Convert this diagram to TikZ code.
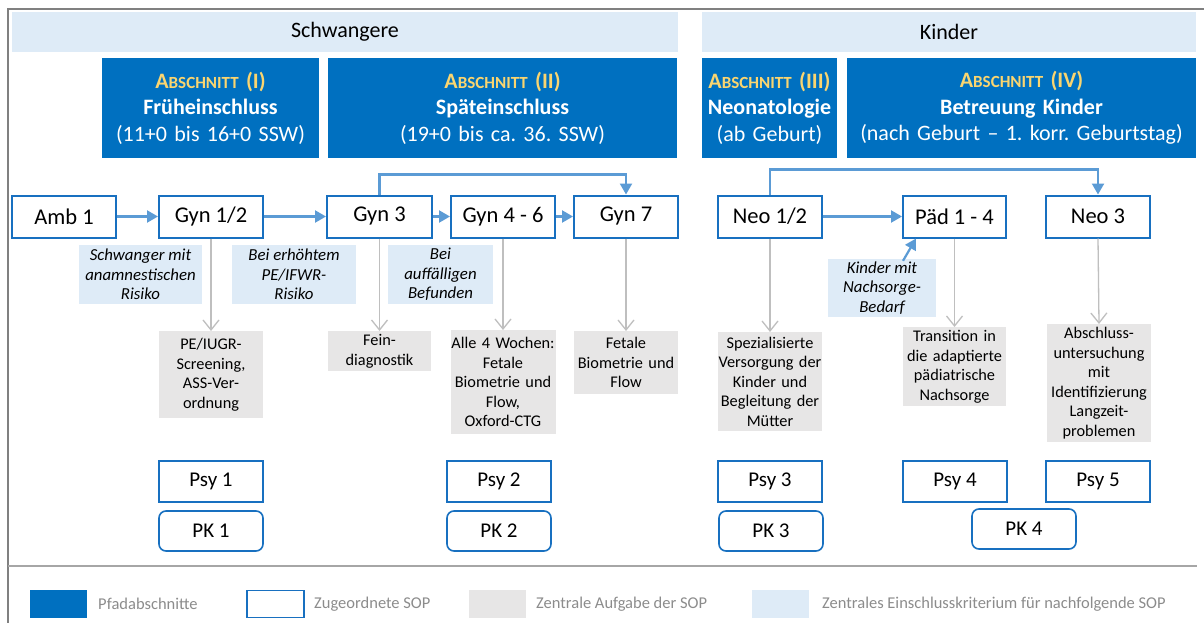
\documentclass[tikz,border=0pt]{standalone}
\usepackage{fontspec}
\setmainfont{Carlito}
\usetikzlibrary{arrows.meta}

\definecolor{pathblue}{RGB}{0,112,192}
\definecolor{sopblue}{RGB}{24,112,192}
\definecolor{arrowblue}{RGB}{91,155,213}
\definecolor{critblue}{RGB}{222,235,247}
\definecolor{taskgray}{RGB}{231,230,230}
\definecolor{goldtext}{RGB}{250,213,112}
\definecolor{tipgray}{RGB}{191,191,191}
\definecolor{framegray}{RGB}{128,128,128}
\definecolor{sepgray}{RGB}{166,166,166}
\definecolor{legtext}{RGB}{140,140,140}

% fake small caps for the section labels
\newcommand\abschnittlabel[1]{{\color{goldtext}\bfseries A{\fontsize{17}{26}\selectfont BSCHNITT} #1}}

\begin{document}
\frenchspacing
\begin{tikzpicture}[x=1pt,y=-1pt,
  band/.style={fill=critblue, inner sep=0pt, font={\fontsize{22}{26}\selectfont}},
  section/.style={fill=pathblue, text=white, inner sep=0pt, align=center,
    minimum height=100pt, font={\fontsize{22}{26.5}\selectfont}},
  sop/.style={draw=sopblue, line width=2pt, fill=white, inner sep=0pt,
    minimum width=104pt, minimum height=42pt, font={\fontsize{22.5}{26}\selectfont}},
  psybox/.style={draw=sopblue, line width=1.6pt, fill=white, inner sep=0pt,
    minimum width=104pt, minimum height=41pt, font={\fontsize{21}{24}\selectfont}},
  pkbox/.style={psybox, rounded corners=7pt, minimum height=40pt},
  crit/.style={fill=critblue, inner sep=0pt, align=center, minimum height=59pt,
    font={\fontsize{16.8}{19.5}\selectfont\itshape}},
  task/.style={fill=taskgray, inner sep=0pt, align=center, anchor=north,
    font={\fontsize{16.3}{19.5}\selectfont}},
  flowline/.style={draw=arrowblue, line width=2.2pt,
    -{Triangle[length=11pt,width=12pt]}},
  taskline/.style={draw=tipgray, line width=1.3pt,
    -{Straight Barb[length=10pt,width=16pt,line width=1.3pt]}},
  legbox/.style={minimum width=57pt, minimum height=28pt, inner sep=0pt},
  legtxt/.style={anchor=west, text=legtext, inner sep=0pt,
    font={\fontsize{16.5}{19}\selectfont}}
]
\useasboundingbox (0,0) rectangle (1204,623);
\fill[white] (0,0) rectangle (1204,623);

% outer frame and legend separator
\draw[framegray, line width=2pt] (8,623) -- (8,9) -- (1204,9);
\draw[sepgray, line width=2pt] (8,566) -- (1197,566);

% group bands
\node[band, minimum width=666pt, minimum height=40pt] (schw) at (345,32) {Schwangere};
\node[band, minimum width=494pt, minimum height=40pt] (kind) at (949,32) {Kinder};

% path sections
\node[section, minimum width=217pt, text width=213pt] (secI) at (210.5,108)
  {\abschnittlabel{(I)}\\\textbf{Früheinschluss}\\(11+0 bis 16+0 SSW)};
\node[section, minimum width=349pt, text width=345pt] (secII) at (502.5,108)
  {\abschnittlabel{(II)}\\\textbf{Späteinschluss}\\(19+0 bis ca. 36. SSW)};
\node[section, minimum width=135pt, text width=135pt] (secIII) at (769.5,108)
  {\abschnittlabel{(III)}\\\textbf{Neonatologie}\\(ab Geburt)};
\node[section, minimum width=349pt, text width=345pt] (secIV) at (1021.5,108)
  {\abschnittlabel{(IV)}\\\textbf{Betreuung Kinder}\\(nach Geburt -- 1. korr. Geburtstag)};

% assigned SOPs along the path
\node[sop] (amb1)  at (64,216.5)   {Amb 1};
\node[sop] (gyn12) at (211,216.5)  {Gyn 1/2};
\node[sop, minimum width=105pt] (gyn3)  at (379.5,216.5) {Gyn 3};
\node[sop] (gyn46) at (503,216.5)  {Gyn 4 - 6};
\node[sop] (gyn7)  at (626,216.5)  {Gyn 7};
\node[sop] (neo12) at (770,216.5)  {Neo 1/2};
\node[sop, minimum width=103pt] (pad)   at (954.5,216.5) {Päd 1 - 4};
\node[sop] (neo3)  at (1098,216.5) {Neo 3};

% inclusion criteria
\node[crit, minimum width=123pt] (c1) at (140.5,274.5) {Schwanger mit\\anamnestischen\\Risiko};
\node[crit, minimum width=124pt] (c2) at (294,274.5) {Bei erhöhtem\\PE/IFWR-\\Risiko};
\node[crit, minimum width=105pt] (c3) at (440.5,274.5) {Bei\\auffälligen\\Befunden};
\node[crit, minimum width=108pt, minimum height=58pt] (c4) at (882,288) {Kinder mit\\Nachsorge-\\Bedarf};

% central tasks
\node[task, text width=104pt, minimum height=87pt] (t1) at (211,331) {PE/IUGR-\\Screening,\\ASS-Ver-\\ordnung};
\node[task, text width=103pt, minimum height=40pt] (t2) at (379.5,331) {Fein-\\diagnostik};
\node[task, text width=105pt, minimum height=104pt] (t3) at (503,330) {Alle 4 Wochen:\\Fetale\\Biometrie und\\Flow,\\Oxford-CTG};
\node[task, text width=104pt, minimum height=63pt] (t4) at (626,331) {Fetale\\Biometrie und\\Flow};
\node[task, text width=104pt, minimum height=99pt] (t5) at (770,332) {Spezialisierte\\Versorgung der\\Kinder und\\Begleitung der\\Mütter};
\node[task, text width=103pt, minimum height=79pt] (t6) at (954.5,327) {Transition in\\die adaptierte\\pädiatrische\\Nachsorge};
\node[task, text width=104pt, minimum height=118pt] (t7) at (1099,324) {Abschluss-\\untersuchung\\mit\\Identifizierung\\Langzeit-\\problemen};

% psychological and nursing SOPs
\node[psybox] (psy1) at (211,481.5)  {Psy 1};
\node[psybox] (psy2) at (499,481.5)  {Psy 2};
\node[psybox] (psy3) at (770,481.5)  {Psy 3};
\node[psybox] (psy4) at (955,481.5)  {Psy 4};
\node[psybox] (psy5) at (1098,481.5) {Psy 5};
\node[pkbox] (pk1) at (211,531)  {PK 1};
\node[pkbox] (pk2) at (499,531)  {PK 2};
\node[pkbox] (pk3) at (771,531)  {PK 3};
\node[pkbox] (pk4) at (1024,529) {PK 4};

% path flow
\draw[flowline] (amb1) -- (gyn12);
\draw[flowline] (gyn12) -- (gyn3);
\draw[flowline] (gyn3) -- (gyn46);
\draw[flowline] (gyn46) -- (gyn7);
\draw[flowline] (gyn3.north) -- ++(0,-20) -| (gyn7.north);
\draw[flowline] (neo12) -- (pad);
\draw[flowline] (neo12.north) -- ++(0,-25) -| (neo3.north);
\draw[flowline] ([xshift=21pt,yshift=-2pt]c4.north) -- ([xshift=14pt]pad.south west);

% SOP to task
\draw[taskline] (gyn12.south) -- (t1.north);
\draw[taskline] (gyn3.south) -- (t2.north);
\draw[taskline] (gyn46.south) -- (t3.north);
\draw[taskline] (gyn7.south) -- (t4.north);
\draw[taskline] (neo12.south) -- (t5.north);
\draw[taskline] (pad.south) -- (t6.north);
\draw[taskline] (neo3.south) -- (t7.north);

% legend
\node[legbox, fill=pathblue] (lg1) at (58.5,604) {};
\node[legtxt] (lt1) at (98,604) {Pfadabschnitte};
\node[legbox, draw=sopblue, line width=1.6pt, minimum width=57pt, minimum height=27pt] (lg2) at (275.5,604) {};
\node[legtxt] (lt2) at (314,604) {Zugeordnete SOP};
\node[legbox, fill=taskgray] (lg3) at (497.5,604) {};
\node[legtxt] (lt3) at (536,604) {Zentrale Aufgabe der SOP};
\node[legbox, fill=critblue] (lg4) at (780,604) {};
\node[legtxt] (lt4) at (822,604) {Zentrales Einschlusskriterium für nachfolgende SOP};
\end{tikzpicture}
\end{document}
